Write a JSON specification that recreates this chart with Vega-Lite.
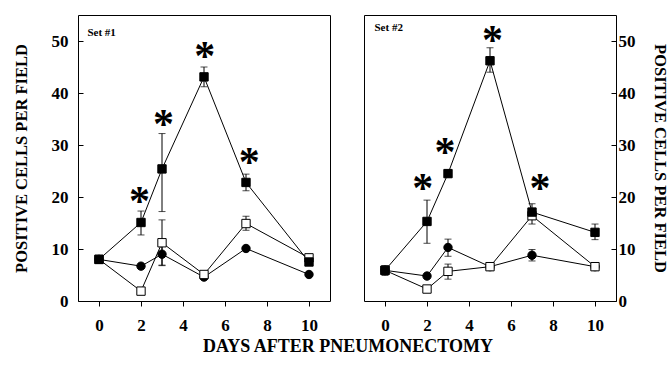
{
  "$schema": "https://vega.github.io/schema/vega-lite/v6.json",
  "padding": {"left": 12, "top": 14, "right": 0, "bottom": 8},
  "datasets": {
    "pts": [
      {"panel": "Set #1", "series": "A", "day": 0, "v": 8.0, "lo": null, "hi": null},
      {"panel": "Set #1", "series": "A", "day": 2, "v": 15.1, "lo": 12.7, "hi": 17.3},
      {"panel": "Set #1", "series": "A", "day": 3, "v": 25.4, "lo": 17.2, "hi": 32.2},
      {"panel": "Set #1", "series": "A", "day": 5, "v": 43.1, "lo": 41.2, "hi": 45.0},
      {"panel": "Set #1", "series": "A", "day": 7, "v": 22.8, "lo": 21.2, "hi": 24.4},
      {"panel": "Set #1", "series": "A", "day": 10, "v": 7.5, "lo": null, "hi": null},
      {"panel": "Set #1", "series": "B", "day": 0, "v": 8.0, "lo": null, "hi": null},
      {"panel": "Set #1", "series": "B", "day": 2, "v": 1.9, "lo": null, "hi": null},
      {"panel": "Set #1", "series": "B", "day": 3, "v": 11.2, "lo": 6.8, "hi": 15.6},
      {"panel": "Set #1", "series": "B", "day": 5, "v": 5.1, "lo": null, "hi": null},
      {"panel": "Set #1", "series": "B", "day": 7, "v": 14.9, "lo": 13.6, "hi": 16.3},
      {"panel": "Set #1", "series": "B", "day": 10, "v": 8.3, "lo": null, "hi": null},
      {"panel": "Set #1", "series": "C", "day": 0, "v": 8.0, "lo": null, "hi": null},
      {"panel": "Set #1", "series": "C", "day": 2, "v": 6.7, "lo": null, "hi": null},
      {"panel": "Set #1", "series": "C", "day": 3, "v": 9.0, "lo": 6.9, "hi": 10.6},
      {"panel": "Set #1", "series": "C", "day": 5, "v": 4.6, "lo": null, "hi": null},
      {"panel": "Set #1", "series": "C", "day": 7, "v": 10.1, "lo": null, "hi": null},
      {"panel": "Set #1", "series": "C", "day": 10, "v": 5.1, "lo": null, "hi": null},
      {"panel": "Set #2", "series": "A", "day": 0, "v": 5.9, "lo": 4.9, "hi": 6.8},
      {"panel": "Set #2", "series": "A", "day": 2, "v": 15.3, "lo": 11.1, "hi": 19.4},
      {"panel": "Set #2", "series": "A", "day": 3, "v": 24.5, "lo": 23.8, "hi": 25.2},
      {"panel": "Set #2", "series": "A", "day": 5, "v": 46.2, "lo": 44.0, "hi": 48.7},
      {"panel": "Set #2", "series": "A", "day": 7, "v": 17.1, "lo": 15.8, "hi": 18.7},
      {"panel": "Set #2", "series": "A", "day": 10, "v": 13.2, "lo": 11.8, "hi": 14.8},
      {"panel": "Set #2", "series": "B", "day": 0, "v": 5.9, "lo": null, "hi": null},
      {"panel": "Set #2", "series": "B", "day": 2, "v": 2.3, "lo": null, "hi": null},
      {"panel": "Set #2", "series": "B", "day": 3, "v": 5.7, "lo": 4.2, "hi": 7.1},
      {"panel": "Set #2", "series": "B", "day": 5, "v": 6.6, "lo": null, "hi": null},
      {"panel": "Set #2", "series": "B", "day": 7, "v": 16.4, "lo": 14.8, "hi": 17.6},
      {"panel": "Set #2", "series": "B", "day": 10, "v": 6.6, "lo": null, "hi": null},
      {"panel": "Set #2", "series": "C", "day": 0, "v": 5.9, "lo": null, "hi": null},
      {"panel": "Set #2", "series": "C", "day": 2, "v": 4.8, "lo": null, "hi": null},
      {"panel": "Set #2", "series": "C", "day": 3, "v": 10.3, "lo": 8.6, "hi": 11.9},
      {"panel": "Set #2", "series": "C", "day": 5, "v": 6.6, "lo": null, "hi": null},
      {"panel": "Set #2", "series": "C", "day": 7, "v": 8.8, "lo": 7.7, "hi": 9.9},
      {"panel": "Set #2", "series": "C", "day": 10, "v": 6.6, "lo": null, "hi": null}
    ],
    "stars": [
      {"panel": "Set #1", "day": 1.93, "v": 20.8},
      {"panel": "Set #1", "day": 3.07, "v": 35.6},
      {"panel": "Set #1", "day": 5.03, "v": 48.7},
      {"panel": "Set #1", "day": 7.16, "v": 28.2},
      {"panel": "Set #2", "day": 1.8, "v": 23.2},
      {"panel": "Set #2", "day": 2.86, "v": 30.2},
      {"panel": "Set #2", "day": 5.12, "v": 51.8},
      {"panel": "Set #2", "day": 7.38, "v": 23.2}
    ],
    "labels": [
      {"panel": "Set #1", "day": -0.55, "v": 51.6},
      {"panel": "Set #2", "day": -0.5, "v": 52.5}
    ]
  },
  "title": {"text": "DAYS AFTER PNEUMONECTOMY", "orient": "bottom", "anchor": "middle", "font": "Liberation Serif", "fontSize": 18, "fontWeight": "bold", "color": "black", "offset": 4, "dx": 8},
  "spacing": 32,
  "hconcat": [
    {
      "width": 252,
      "height": 286,
      "layer": [
        {
          "data": {"name": "pts"},
          "transform": [{"filter": "datum.panel == 'Set #1'"}],
          "mark": {"type": "line", "color": "black", "strokeWidth": 1},
          "encoding": {
            "x": {"field": "day", "type": "quantitative", "scale": {"domain": [-1, 11], "nice": false}, "axis": {"values": [0, 2, 4, 6, 8, 10], "title": null, "tickSize": 5, "labelPadding": 11}},
            "y": {"field": "v", "type": "quantitative", "title": "POSITIVE CELLS PER FIELD", "scale": {"domain": [0, 55], "nice": false}, "axis": {"values": [0, 10, 20, 30, 40, 50], "orient": "left", "tickSize": -5, "labelPadding": 15, "titlePadding": 22}},
            "detail": {"field": "series"}
          }
        },
        {
          "data": {"name": "pts"},
          "transform": [{"filter": "datum.panel == 'Set #1' && datum.lo != null"}],
          "mark": {"type": "errorbar", "ticks": {"size": 7, "color": "black"}, "rule": {"color": "black", "strokeWidth": 1}},
          "encoding": {
            "x": {"field": "day", "type": "quantitative"},
            "y": {"field": "lo", "type": "quantitative", "title": "POSITIVE CELLS PER FIELD"},
            "y2": {"field": "hi"}
          }
        },
        {
          "data": {"name": "pts"},
          "transform": [{"filter": "datum.panel == 'Set #1'"}],
          "mark": {"type": "point", "stroke": "black", "strokeWidth": 1, "opacity": 1, "filled": false, "size": 70},
          "encoding": {
            "x": {"field": "day", "type": "quantitative"},
            "y": {"field": "v", "type": "quantitative", "title": "POSITIVE CELLS PER FIELD"},
            "shape": {"field": "series", "scale": {"domain": ["A", "B", "C"], "range": ["square", "square", "circle"]}, "legend": null},
            "fill": {"field": "series", "scale": {"domain": ["A", "B", "C"], "range": ["black", "white", "black"]}, "legend": null},
            "order": {"field": "series", "sort": "descending"}
          }
        },
        {
          "data": {"name": "stars"},
          "transform": [{"filter": "datum.panel == 'Set #1'"}],
          "mark": {"type": "text", "text": "*", "font": "Liberation Serif", "fontSize": 42, "fontWeight": "bold", "color": "black", "baseline": "middle", "align": "center", "dy": 9},
          "encoding": {
            "x": {"field": "day", "type": "quantitative"},
            "y": {"field": "v", "type": "quantitative", "title": "POSITIVE CELLS PER FIELD"}
          }
        },
        {
          "data": {"name": "labels"},
          "transform": [{"filter": "datum.panel == 'Set #1'"}],
          "mark": {"type": "text", "font": "Liberation Serif", "fontSize": 11, "fontWeight": "bold", "color": "black", "align": "left", "baseline": "middle"},
          "encoding": {
            "x": {"field": "day", "type": "quantitative"},
            "y": {"field": "v", "type": "quantitative", "title": "POSITIVE CELLS PER FIELD"},
            "text": {"field": "panel"}
          }
        }
      ]
    },
    {
      "width": 252,
      "height": 286,
      "layer": [
        {
          "data": {"name": "pts"},
          "transform": [{"filter": "datum.panel == 'Set #2'"}],
          "mark": {"type": "line", "color": "black", "strokeWidth": 1},
          "encoding": {
            "x": {"field": "day", "type": "quantitative", "scale": {"domain": [-1, 11], "nice": false}, "axis": {"values": [0, 2, 4, 6, 8, 10], "title": null, "tickSize": 5, "labelPadding": 11}},
            "y": {"field": "v", "type": "quantitative", "title": "POSITIVE CELLS PER FIELD", "scale": {"domain": [0, 55], "nice": false}, "axis": {"values": [0, 10, 20, 30, 40, 50], "orient": "right", "tickSize": -5, "labelPadding": 7, "titlePadding": 16}},
            "detail": {"field": "series"}
          }
        },
        {
          "data": {"name": "pts"},
          "transform": [{"filter": "datum.panel == 'Set #2' && datum.lo != null"}],
          "mark": {"type": "errorbar", "ticks": {"size": 7, "color": "black"}, "rule": {"color": "black", "strokeWidth": 1}},
          "encoding": {
            "x": {"field": "day", "type": "quantitative"},
            "y": {"field": "lo", "type": "quantitative", "title": "POSITIVE CELLS PER FIELD"},
            "y2": {"field": "hi"}
          }
        },
        {
          "data": {"name": "pts"},
          "transform": [{"filter": "datum.panel == 'Set #2'"}],
          "mark": {"type": "point", "stroke": "black", "strokeWidth": 1, "opacity": 1, "filled": false, "size": 70},
          "encoding": {
            "x": {"field": "day", "type": "quantitative"},
            "y": {"field": "v", "type": "quantitative", "title": "POSITIVE CELLS PER FIELD"},
            "shape": {"field": "series", "scale": {"domain": ["A", "B", "C"], "range": ["square", "square", "circle"]}, "legend": null},
            "fill": {"field": "series", "scale": {"domain": ["A", "B", "C"], "range": ["black", "white", "black"]}, "legend": null},
            "order": {"field": "series", "sort": "descending"}
          }
        },
        {
          "data": {"name": "stars"},
          "transform": [{"filter": "datum.panel == 'Set #2'"}],
          "mark": {"type": "text", "text": "*", "font": "Liberation Serif", "fontSize": 42, "fontWeight": "bold", "color": "black", "baseline": "middle", "align": "center", "dy": 9},
          "encoding": {
            "x": {"field": "day", "type": "quantitative"},
            "y": {"field": "v", "type": "quantitative", "title": "POSITIVE CELLS PER FIELD"}
          }
        },
        {
          "data": {"name": "labels"},
          "transform": [{"filter": "datum.panel == 'Set #2'"}],
          "mark": {"type": "text", "font": "Liberation Serif", "fontSize": 11, "fontWeight": "bold", "color": "black", "align": "left", "baseline": "middle"},
          "encoding": {
            "x": {"field": "day", "type": "quantitative"},
            "y": {"field": "v", "type": "quantitative", "title": "POSITIVE CELLS PER FIELD"},
            "text": {"field": "panel"}
          }
        }
      ]
    }
  ],
  "config": {
    "view": {"stroke": "black", "strokeWidth": 1},
    "axis": {"grid": false, "domain": false, "tickColor": "black", "labelFont": "Liberation Serif", "labelFontWeight": "bold", "labelFontSize": 17, "labelColor": "black", "titleFont": "Liberation Serif", "titleFontWeight": "bold", "titleFontSize": 16.5, "titleColor": "black"}
  }
}
